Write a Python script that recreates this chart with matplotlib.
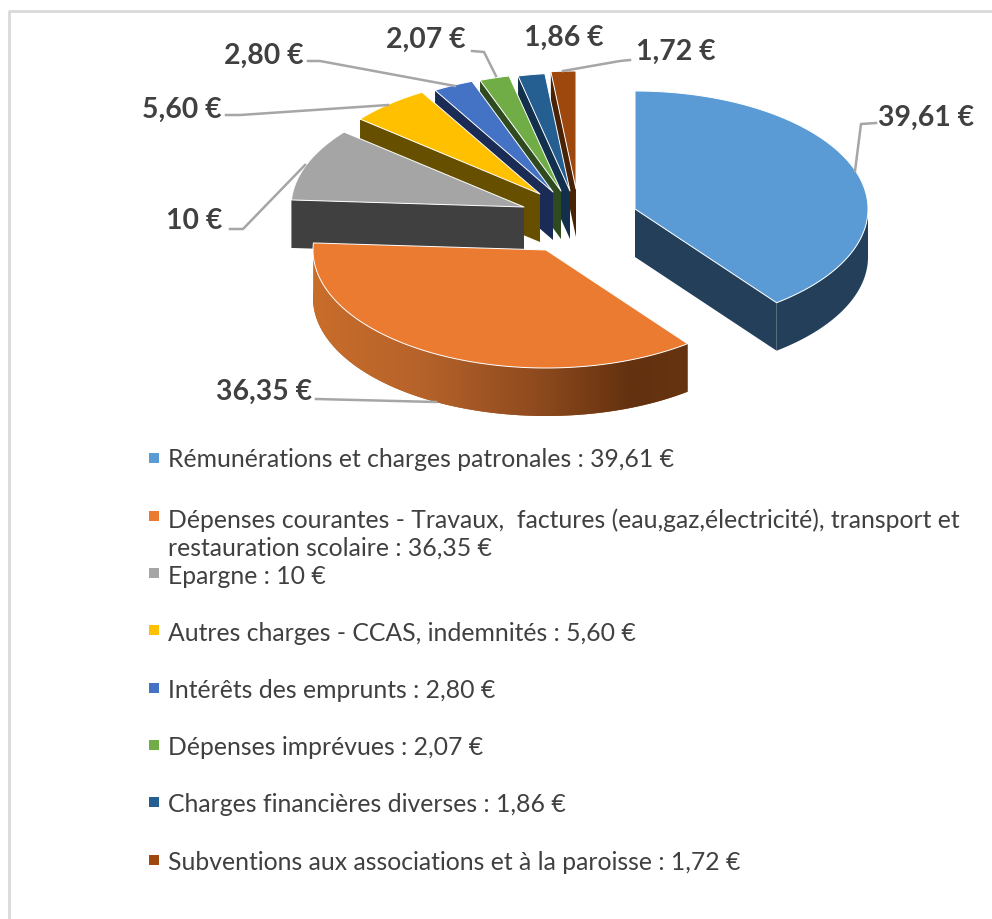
import numpy as np
import matplotlib
matplotlib.use('Agg')
import matplotlib.pyplot as plt
from matplotlib.colors import LinearSegmentedColormap
from matplotlib.patches import Polygon, Rectangle

values = [39.61, 36.35, 10, 5.60, 2.80, 2.07, 1.86, 1.72]
value_labels = ['39,61 €', '36,35 €', '10 €', '5,60 €', '2,80 €', '2,07 €', '1,86 €', '1,72 €']
legend_labels = ['Rémunérations et charges patronales : 39,61 €',
                 'Dépenses courantes - Travaux,  factures (eau,gaz,électricité), transport et\nrestauration scolaire : 36,35 €',
                 'Epargne : 10 €',
                 'Autres charges - CCAS, indemnités : 5,60 €',
                 'Intérêts des emprunts : 2,80 €',
                 'Dépenses imprévues : 2,07 €',
                 'Charges financières diverses : 1,86 €',
                 'Subventions aux associations et à la paroisse : 1,72 €']
colors = ['#5b9bd5', '#ea7b30', '#a5a5a5', '#ffc000', '#4472c4', '#70ad47', '#255e91', '#9e480e']
side_colors = ['#243f5a', '#a8591f', '#404040', '#665000', '#1a2c55', '#2e4a1e', '#12304c', '#4a2206']

# layout, all in pixels of the picture
centers = [(635, 210), (546, 251), (524, 208), (540, 195), (553, 193), (561, 192), (570, 192), (576, 190)]
RX, RY, DEPTH = 233, 118, 48
label_pos = [(974, 118, 'right'), (312, 392, 'right'), (222, 221, 'right'), (222, 110, 'right'),
             (304, 56, 'right'), (466, 40, 'right'), (604, 38, 'right'), (636, 52, 'left')]
leaders = [[(876, 124), (861, 125), (855, 172)],
           [(316, 400), (436, 403)],
           [(230, 230), (243, 230), (305, 166)],
           [(226, 116), (240, 116), (388, 106)],
           [(308, 62), (320, 62), (455, 87)],
           [(472, 52), (484, 53), (496, 77)],
           [],
           [(630, 61), (620, 62), (563, 72)]]
legend_y = [460, 534, 577, 634, 691, 748, 805, 863]
legend_box_y = [459, 517, 574, 631, 689, 746, 803, 861]
TXT = '#404040'

plt.rcParams['font.family'] = ['Lato', 'DejaVu Sans']

fig = plt.figure(figsize=(9.92, 9.2), dpi=100)
ax = fig.add_axes([0, 0, 1, 1])


def rim(cx, cy, t):
    return np.column_stack([cx + RX*np.sin(t), cy - RY*np.cos(t)])


#angles go clockwise from 12 o'clock
edges = np.radians(np.cumsum([0] + values)/np.sum(values)*360)

#back slices first so the front ones cover them
for i in [7, 6, 5, 4, 3, 2, 0, 1]:
    cx, cy = centers[i]
    t0, t1 = edges[i], edges[i+1]
    top = rim(cx, cy, np.linspace(t0, t1, 120))
    apex = np.array([[cx, cy]])
    down = np.array([0, DEPTH])

    #cut face, the one that looks at the viewer
    if i == 0:
        p = rim(cx, cy, np.array([t1]))
        ax.add_patch(Polygon(np.vstack([apex, p, p+down, apex+down]), fc=side_colors[i], ec='none', zorder=2))
    elif i >= 2:
        p = rim(cx, cy, np.array([t0]))
        ax.add_patch(Polygon(np.vstack([p, apex, apex+down, p+down]), fc=side_colors[i], ec='none', zorder=2))

    #outer wall, only the front half of the rim
    lo, hi = max(t0, np.pi/2), min(t1, 3*np.pi/2)
    if i == 1:
        hi = t1
    if lo < hi:
        arc = rim(cx, cy, np.linspace(lo, hi, 120))
        wall = Polygon(np.vstack([arc, (arc+down)[::-1]]), fc=side_colors[i], ec='none', zorder=2)
        ax.add_patch(wall)
        if i == 1:
            #brown to orange shading of the big front wall
            cmap = LinearSegmentedColormap.from_list('wall', [(0, '#c96d2b'), (0.3, '#b5622a'), (0.6, '#8e4a1e'),
                                                             (0.85, '#63310f'), (1, '#66340f')])
            im = ax.imshow(np.linspace(0, 1, 256)[None, :], cmap=cmap, aspect='auto', zorder=2,
                           extent=(arc[:, 0].min(), arc[:, 0].max(), 430, 240))
            im.set_clip_path(wall)

    ax.add_patch(Polygon(np.vstack([apex, top]), fc=colors[i], ec='white', lw=0.7, joinstyle='round', zorder=2))

#chart frame
ax.plot([9, 9, 992], [920, 12, 12], color='#d9d9d9', lw=2, zorder=1)

#leader lines and value labels
for pts in leaders:
    if pts:
        ax.plot([p[0] for p in pts], [p[1] for p in pts], color='#a6a6a6', lw=1.8, zorder=3)
for (x, y, ha), txt in zip(label_pos, value_labels):
    ax.text(x, y, txt, ha=ha, va='center', fontsize=20.4, fontweight='bold', color=TXT, zorder=4)

#legend
for y, by, txt, c in zip(legend_y, legend_box_y, legend_labels, colors):
    ax.add_patch(Rectangle((149, by-5), 10, 10, fc=c, ec='none', zorder=4))
    ax.text(168, y, txt, ha='left', va='center', fontsize=17.8, color=TXT, linespacing=1.25, zorder=4)

ax.set_xlim(0, 992)
ax.set_ylim(920, 0)
ax.axis('off')

fig.savefig('out.png', dpi=100)
